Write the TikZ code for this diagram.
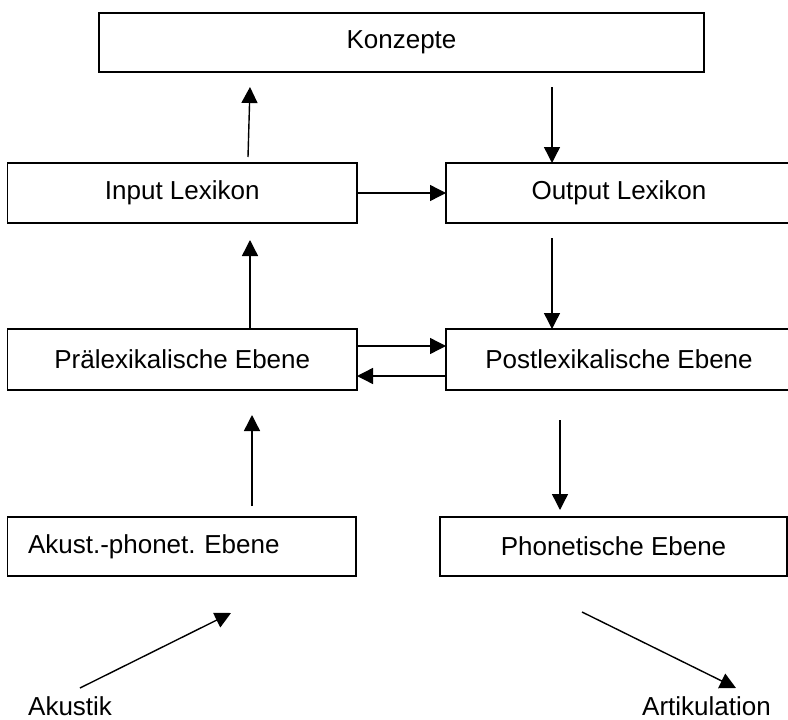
\documentclass[tikz,border=0pt]{standalone}
\usepackage{fontspec}
\setmainfont{Liberation Sans}
\usepackage{tikz}
\usetikzlibrary{arrows.meta}

\tikzset{
  box/.style={draw,line width=1.6pt,inner sep=0pt,outer sep=0pt,
              font=\fontsize{26}{31}\selectfont},
  lab/.style={inner sep=0pt,font=\fontsize{26}{31}\selectfont},
  arr/.style={line width=1.4pt,-{Triangle[length=16pt,width=16pt]}}
}

\begin{document}
\begin{tikzpicture}[x=1pt,y=-1pt]
\useasboundingbox (0,0) rectangle (788,720);

% boxes
\node[box,minimum width=605pt,minimum height=59pt] (konz) at (401.5,42.5) {Konzepte};
\node[box,minimum width=349.5pt,minimum height=60pt] (inlex) at (182.25,193) {Input Lexikon};
\node[box,minimum width=346pt,minimum height=60pt] (outlex) at (619,193) {Output Lexikon};
\node[box,minimum width=349.5pt,minimum height=61pt] (prelex) at (182.25,359.5) {Prälexikalische Ebene};
\node[box,minimum width=346pt,minimum height=61pt] (postlex) at (619,359.5) {Postlexikalische Ebene};
\node[box,minimum width=348.5pt,minimum height=59pt,inner xsep=20.5pt,
      text width=307.5pt,align=left] (akust) at (181.75,546.5) {Akust.-phonet.\ Ebene};
\node[box,minimum width=347pt,minimum height=59pt] (phon) at (613.5,546.5) {Phonetische Ebene};

% outer labels
\node[lab,anchor=base west] (akustik) at (28,715) {Akustik};
\node[lab,anchor=base west] (artik) at (642,715) {Artikulation};
\coordinate (akA) at (80,688);
\coordinate (akB) at (231,613);
\coordinate (arA) at (582,612);
\coordinate (arB) at (736,688);

% arrows
\draw[arr] ([xshift=65.75pt,yshift=6pt]inlex.north) -- ([xshift=-151.5pt,yshift=-15pt]konz.south);
\draw[arr] ([xshift=150.5pt,yshift=-15pt]konz.south) -- ([xshift=-67pt]outlex.north);
\draw[arr] (inlex.east) -- (outlex.west);
\draw[arr] ([xshift=-67pt,yshift=-15pt]outlex.south) -- ([xshift=-67pt]postlex.north);
\draw[arr] ([xshift=67.75pt]prelex.north) -- ([xshift=67.75pt,yshift=-17pt]inlex.south);
\draw[arr] ([yshift=13.5pt]prelex.east) -- ([yshift=13.5pt]postlex.west);
\draw[arr] ([yshift=-16.5pt]postlex.west) -- ([yshift=-16.5pt]prelex.east);
\draw[arr] ([xshift=70.25pt,yshift=11pt]akust.north) -- ([xshift=69.75pt,yshift=-25pt]prelex.south);
\draw[arr] ([xshift=-59pt,yshift=-30pt]postlex.south) -- ([xshift=-53.5pt,yshift=7pt]phon.north);
\draw[arr] (akA) -- (akB);
\draw[arr] (arA) -- (arB);

\end{tikzpicture}
\end{document}
